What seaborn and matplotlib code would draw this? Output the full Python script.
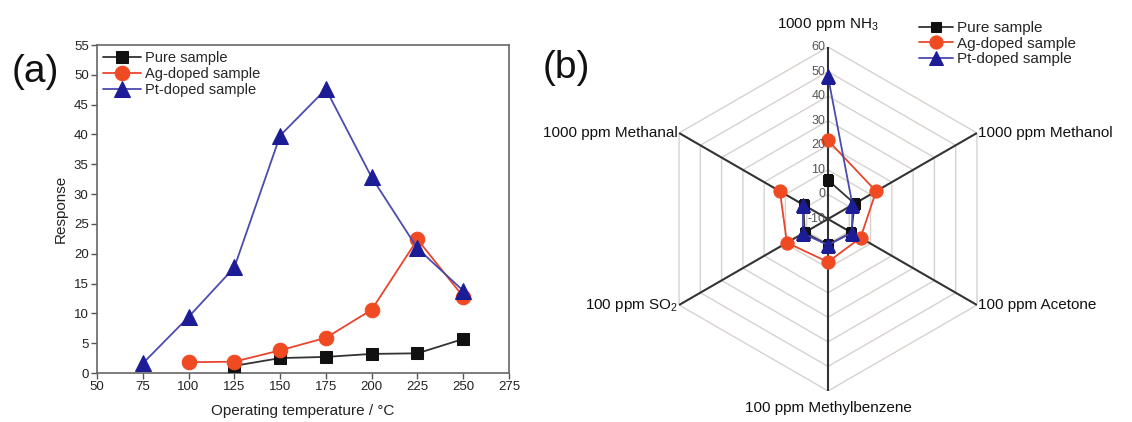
import numpy as np
import pandas as pd
import matplotlib
matplotlib.use("Agg")
import matplotlib.pyplot as plt
import seaborn as sns

# ---------------- data ----------------
# panel (a)
temps_pure = [125, 150, 175, 200, 225, 250]
resp_pure = [1.2, 2.5, 2.7, 3.2, 3.3, 5.7]
temps_ag = [100, 125, 150, 175, 200, 225, 250]
resp_ag = [1.8, 1.9, 3.8, 5.9, 10.6, 22.4, 12.8]
temps_pt = [75, 100, 125, 150, 175, 200, 225, 250]
resp_pt = [1.6, 9.4, 17.7, 39.8, 47.6, 32.8, 20.9, 13.8]
x_ticks_a = [50, 75, 100, 125, 150, 175, 200, 225, 250, 275]
y_ticks_a = [0, 5, 10, 15, 20, 25, 30, 35, 40, 45, 50, 55]

# panel (b)
gases = ["1000 ppm NH$_3$", "1000 ppm Methanol", "100 ppm Acetone",
         "100 ppm Methylbenzene", "100 ppm SO$_2$", "1000 ppm Methanal"]
radar_pure = [5.8, 2.5, 1.0, 0.5, 1.0, 1.5]
radar_ag = [22.0, 12.6, 5.3, 7.5, 9.3, 12.6]
radar_pt = [48.0, 1.5, 1.2, 0.6, 1.8, 1.8]
r_ticks = [-10, 0, 10, 20, 30, 40, 50, 60]
series_names = ["Pure sample", "Ag-doped sample", "Pt-doped sample"]

# ---------------- style ----------------
sns.set_theme(style="white")
plt.rcParams["font.family"] = ["Liberation Sans", "DejaVu Sans"]
plt.rcParams["mathtext.fontset"] = "custom"
plt.rcParams["mathtext.rm"] = "Liberation Sans"
plt.rcParams["mathtext.it"] = "Liberation Sans"

c_black = "#111111"
c_red_line = "#e8452e"
c_red_mk = "#f04a22"
c_blue_line = "#4b4bb0"
c_blue_mk = "#1c1c96"

fig = plt.figure(figsize=(11.32, 4.22), dpi=100)

# ---------------- panel (a) ----------------
ax = fig.add_axes([97 / 1132, 1 - 373 / 422, 412 / 1132, 328 / 422])
df_pure = pd.DataFrame({"t": temps_pure, "r": resp_pure})
df_ag = pd.DataFrame({"t": temps_ag, "r": resp_ag})
df_pt = pd.DataFrame({"t": temps_pt, "r": resp_pt})

sns.lineplot(data=df_pure, x="t", y="r", ax=ax, color="#333333", lw=1.3,
             marker="s", markersize=9, markerfacecolor=c_black,
             markeredgecolor=c_black, label=series_names[0], zorder=3)
sns.lineplot(data=df_ag, x="t", y="r", ax=ax, color=c_red_line, lw=1.3,
             marker="o", markersize=10.5, markerfacecolor=c_red_mk,
             markeredgecolor=c_red_mk, label=series_names[1], zorder=4)
sns.lineplot(data=df_pt, x="t", y="r", ax=ax, color=c_blue_line, lw=1.3,
             marker="^", markersize=11.5, markerfacecolor=c_blue_mk,
             markeredgecolor=c_blue_mk, label=series_names[2], zorder=5)

ax.set_xlim(50, 275)
ax.set_ylim(0, 55)
ax.set_xticks(x_ticks_a)
ax.set_yticks(y_ticks_a)
ax.tick_params(axis="both", which="major", direction="out", length=4,
               width=1, color="#555555", labelsize=9.5, pad=2,
               labelcolor="#222222", bottom=True, left=True)
for s in ax.spines.values():
    s.set_color("#666666")
    s.set_linewidth(1.2)
ax.set_xlabel("Operating temperature / \u00b0C", fontsize=11, labelpad=8,
              color="#222222")
ax.set_ylabel("Response", fontsize=11, labelpad=4, color="#222222")
leg = ax.legend(loc="upper left", frameon=False, fontsize=10.5,
                handlelength=2.6, handletextpad=0.3, labelspacing=0.15,
                borderaxespad=0.2, borderpad=0.2)

fig.text(35 / 1132, 1 - 72 / 422, "(a)", fontsize=28, ha="center",
         va="center", color="#111111")

# ---------------- panel (b) radar ----------------
R = 172
cx, cy = 828, 219
axr = fig.add_axes([(cx - R) / 1132, 1 - (cy + R) / 422, 2 * R / 1132,
                    2 * R / 422], projection="polar")
axr.set_theta_offset(np.pi / 2)
axr.set_theta_direction(-1)
axr.set_ylim(-10, 60)
axr.grid(False)
axr.spines["polar"].set_visible(False)
axr.set_xticks([])
axr.set_yticks([])
axr.patch.set_alpha(0)

n = len(gases)
theta = np.arange(n) * 2 * np.pi / n
theta_closed = np.append(theta, theta[0])

# hexagonal grid
for rv in r_ticks[1:]:
    axr.plot(theta_closed, [rv] * (n + 1), color="#d8d2ce", lw=1.0, zorder=1)
# spokes
for th in theta:
    axr.plot([th, th], [-10, 60], color="#333333", lw=1.5, zorder=2)

# radial tick labels
for rv in r_ticks:
    axr.annotate(str(rv), xy=(0, rv), xytext=(-2, 0),
                 textcoords="offset points", ha="right", va="center",
                 fontsize=9, color="#555555", zorder=6)

def closed(v):
    return list(v) + [v[0]]

sns.lineplot(x=theta_closed, y=closed(radar_pure), ax=axr, sort=False,
             color="#333333", lw=1.3, marker="s", markersize=7.5,
             markerfacecolor=c_black, markeredgecolor=c_black,
             label=series_names[0], zorder=3)
sns.lineplot(x=theta_closed, y=closed(radar_ag), ax=axr, sort=False,
             color=c_red_line, lw=1.3, marker="o", markersize=9.5,
             markerfacecolor=c_red_mk, markeredgecolor=c_red_mk,
             label=series_names[1], zorder=4)
sns.lineplot(x=theta_closed, y=closed(radar_pt), ax=axr, sort=False,
             color=c_blue_line, lw=1.3, marker="^", markersize=9.5,
             markerfacecolor=c_blue_mk, markeredgecolor=c_blue_mk,
             label=series_names[2], zorder=5)
axr.set_xlabel("")
axr.set_ylabel("")

# category labels
lab_fs = 11
axr.annotate(gases[0], xy=(theta[0], 60), xytext=(0, 16),
             textcoords="offset points", ha="center", va="center",
             fontsize=lab_fs, color="#111111")
axr.annotate(gases[1], xy=(theta[1], 60), xytext=(1, 0),
             textcoords="offset points", ha="left", va="center",
             fontsize=lab_fs, color="#111111")
axr.annotate(gases[2], xy=(theta[2], 60), xytext=(1, 0),
             textcoords="offset points", ha="left", va="center",
             fontsize=lab_fs, color="#111111")
axr.annotate(gases[3], xy=(theta[3], 60), xytext=(0, -12),
             textcoords="offset points", ha="center", va="center",
             fontsize=lab_fs, color="#111111")
axr.annotate(gases[4], xy=(theta[4], 60), xytext=(-1, 0),
             textcoords="offset points", ha="right", va="center",
             fontsize=lab_fs, color="#111111")
axr.annotate(gases[5], xy=(theta[5], 60), xytext=(-1, 0),
             textcoords="offset points", ha="right", va="center",
             fontsize=lab_fs, color="#111111")

axr.legend(loc="upper left", bbox_to_anchor=(910 / 1132, 1 - 12 / 422),
           bbox_transform=fig.transFigure, frameon=False, fontsize=11,
           handlelength=2.2, handletextpad=0.3, labelspacing=0.1,
           borderpad=0.1)

fig.text(566 / 1132, 1 - 68 / 422, "(b)", fontsize=28, ha="center",
         va="center", color="#111111")

fig.savefig("out.png", dpi=100)
